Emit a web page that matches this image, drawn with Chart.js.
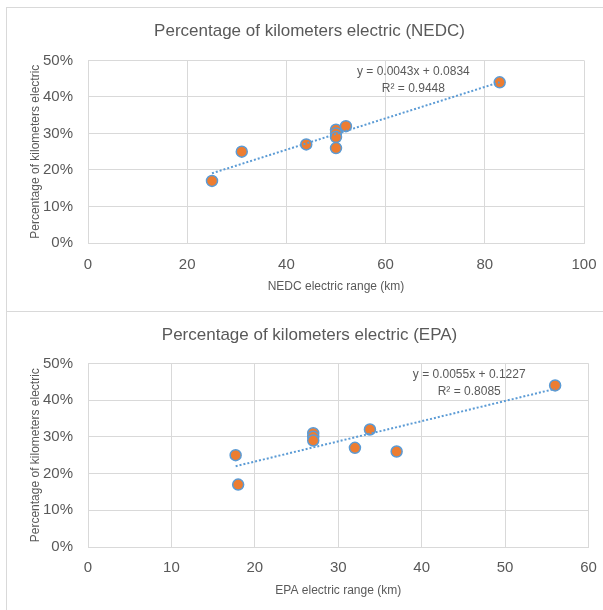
<!DOCTYPE html>
<html>
<head>
<meta charset="utf-8">
<script src="https://cdn.jsdelivr.net/npm/chart.js@4"></script>
<style>
  html, body { margin: 0; padding: 0; background: #fff; }
  body { width: 603px; height: 610px; position: relative; overflow: hidden; }
  .frame { position: absolute; background: #d9d9d9; }
  canvas { position: absolute; }
</style>
</head>
<body>
<div class="frame" style="left:6px;top:7px;width:597px;height:1px;"></div>
<div class="frame" style="left:6px;top:7px;width:1px;height:603px;"></div>
<div class="frame" style="left:6px;top:311px;width:597px;height:1px;"></div>
<canvas id="c1" width="596" height="303" style="left:7px;top:8px;"></canvas>
<canvas id="c2" width="596" height="298" style="left:7px;top:312px;"></canvas>
<script>
// ---- Data ----
const nedcRange = [25, 31, 44, 50, 50, 50, 50, 52, 83];
const nedcShare = [0.17, 0.25, 0.27, 0.31, 0.30, 0.29, 0.26, 0.32, 0.44];
const epaRange  = [17.7, 18, 27, 27, 27, 32, 33.8, 37, 56];
const epaShare  = [0.25, 0.17, 0.31, 0.30, 0.29, 0.27, 0.32, 0.26, 0.44];
// trendline coefficients as printed on the chart
const nedcFit = { slope: 0.0043, intercept: 0.0834, r2: "0.9448" };
const epaFit  = { slope: 0.0055, intercept: 0.1227, r2: "0.8085" };
const nedcTitle = "Percentage of kilometers electric (NEDC)";
const epaTitle  = "Percentage of kilometers electric (EPA)";
const nedcXTitle = "NEDC electric range (km)";
const epaXTitle  = "EPA electric range (km)";
const yTitle = "Percentage of kilometers electric";
const nedcXTicks = [0, 20, 40, 60, 80, 100];
const epaXTicks  = [0, 10, 20, 30, 40, 50, 60];
const yTicks = [0, 0.1, 0.2, 0.3, 0.4, 0.5];

const FONT = "'Liberation Sans', Arial, sans-serif";
const GREY = "#595959";
const GRID = "#d9d9d9";

function toPoints(xs, ys) { return xs.map((x, i) => ({ x: x, y: ys[i] })); }
function fitLine(xs, fit) {
  const lo = Math.min(...xs), hi = Math.max(...xs);
  return [lo, hi].map(x => ({ x: x, y: fit.slope * x + fit.intercept }));
}
function fmt(v) { return v.toFixed(4); }

const eqPlugin = {
  id: 'eqLabel',
  afterDatasetsDraw(chart, args, opts) {
    const { ctx, scales } = chart;
    ctx.save();
    ctx.font = "12px " + FONT;
    ctx.fillStyle = GREY;
    ctx.textAlign = 'center';
    ctx.textBaseline = 'middle';
    const x = scales.x.getPixelForValue(opts.x);
    ctx.fillText("y = " + fmt(opts.fit.slope) + "x + " + fmt(opts.fit.intercept), x, scales.y.getPixelForValue(opts.y1));
    ctx.fillText("R\u00B2 = " + opts.fit.r2, x, scales.y.getPixelForValue(opts.y2));
    ctx.restore();
  }
};

function makeChart(id, cfg) {
  return new Chart(document.getElementById(id), {
    type: 'scatter',
    data: {
      datasets: [
        {
          label: 'Trend',
          data: fitLine(cfg.xs, cfg.fit),
          showLine: true,
          borderColor: '#5B9BD5',
          borderWidth: 2,
          borderDash: [2, 2],
          pointRadius: 0,
          fill: false,
          order: 0
        },
        {
          label: 'Data',
          data: toPoints(cfg.xs, cfg.ys),
          backgroundColor: '#ED7D31',
          borderColor: '#5B9BD5',
          borderWidth: 1.5,
          pointRadius: 5.5,
          order: 1
        }
      ]
    },
    options: {
      responsive: false,
      animation: false,
      devicePixelRatio: 1,
      layout: { padding: { left: 9, right: 0, top: 0, bottom: 0 } },
      plugins: {
        legend: { display: false },
        tooltip: { enabled: false },
        title: {
          display: true,
          text: cfg.title,
          color: GREY,
          font: { family: FONT, size: 17, weight: 'normal' },
          padding: { top: 13, bottom: cfg.titleBottom }
        },
        eqLabel: { fit: cfg.fit, x: cfg.labelX, y1: cfg.labelY1, y2: cfg.labelY2 }
      },
      scales: {
        x: {
          type: 'linear',
          min: cfg.xTicks[0],
          max: cfg.xTicks[cfg.xTicks.length - 1],
          afterBuildTicks: s => { s.ticks = cfg.xTicks.map(v => ({ value: v })); },
          afterFit: s => { s.height = cfg.xAxisH; },
          grid: { color: GRID, lineWidth: 1, drawTicks: true, tickLength: cfg.xTickGap, tickColor: 'rgba(0,0,0,0)' },
          border: { color: GRID },
          ticks: { color: GREY, font: { family: FONT, size: 15 }, padding: 0 },
          title: {
            display: true, text: cfg.xTitle, color: GREY,
            font: { family: FONT, size: 12 },
            padding: { top: 0, bottom: cfg.xTitlePad }
          }
        },
        y: {
          type: 'linear',
          min: 0, max: 0.5,
          afterBuildTicks: s => { s.ticks = yTicks.map(v => ({ value: v })); },
          afterFit: s => { s.width = 72; },
          grid: { color: GRID, lineWidth: 1, drawTicks: false },
          border: { color: GRID },
          ticks: {
            color: GREY, font: { family: FONT, size: 15 }, padding: 15,
            callback: v => Math.round(v * 100) + '%'
          },
          title: {
            display: true, text: yTitle, color: GREY,
            font: { family: FONT, size: 12 },
            padding: { top: 12, bottom: 0 }
          }
        },
        yRight: {
          type: 'linear',
          position: 'right',
          display: true,
          afterFit: s => { s.width = cfg.rightW; },
          grid: { display: false, drawTicks: false },
          border: { display: false },
          ticks: { display: false },
          title: { display: false }
        }
      }
    },
    plugins: [eqPlugin]
  });
}

makeChart('c1', {
  xs: nedcRange, ys: nedcShare, fit: nedcFit, title: nedcTitle, xTitle: nedcXTitle,
  xTicks: nedcXTicks, rightW: 19, titleBottom: 19, xAxisH: 68, xTickGap: 13, xTitlePad: 17,
  labelX: 65.6, labelY1: 0.4686, labelY2: 0.4236
});
makeChart('c2', {
  xs: epaRange, ys: epaShare, fit: epaFit, title: epaTitle, xTitle: epaXTitle,
  xTicks: epaXTicks, rightW: 14.5, titleBottom: 18, xAxisH: 63, xTickGap: 12, xTitlePad: 12,
  labelX: 45.7, labelY1: 0.468, labelY2: 0.422
});
</script>
</body>
</html>
